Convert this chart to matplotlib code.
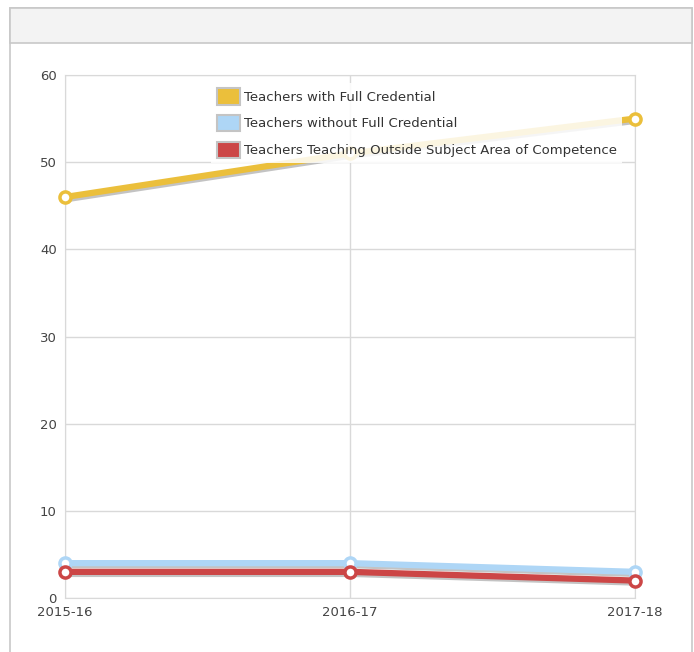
import matplotlib.pyplot as plt
import matplotlib.patheffects as pe
from matplotlib.patches import Rectangle, Patch

years = ["2015-16", "2016-17", "2017-18"]
full_cred = [46, 51, 55]
without_cred = [4, 4, 3]
outside_subject = [3, 3, 2]

series = [
    ("Teachers with Full Credential", full_cred, "#EBBF3B"),
    ("Teachers without Full Credential", without_cred, "#AED6F6"),
    ("Teachers Teaching Outside Subject Area of Competence", outside_subject, "#CC4646"),
]

fig = plt.figure(figsize=(6.94, 6.52), dpi=100)
fig.patch.set_facecolor("white")

# panel frame + header bar (kept behind the axes)
W, H = 694, 652
fig.add_artist(Rectangle((10 / W, -0.01), 682 / W, (H - 8) / H + 0.01,
                         transform=fig.transFigure, facecolor="white",
                         edgecolor="#c8c8c8", linewidth=1.2, zorder=-2))
fig.add_artist(Rectangle((10 / W, 1 - 43 / H), 682 / W, 35 / H,
                         transform=fig.transFigure, facecolor="#f3f3f3",
                         edgecolor="#c8c8c8", linewidth=1.2, zorder=-1))

ax = fig.add_axes([65 / W, 1 - 598 / H, 570 / W, 523 / H])
ax.set_facecolor("none")
x = list(range(len(years)))

shadow = [pe.SimpleLineShadow(offset=(1.5, -1.5), shadow_color="#555555", alpha=0.35),
          pe.Normal()]
for name, vals, color in series:
    ax.plot(x, vals, color=color, lw=4.5, solid_capstyle="round",
            path_effects=shadow, zorder=3, clip_on=False)
    ax.plot(x, vals, ls="none", marker="o", ms=8, mfc="white", mec=color,
            mew=2.5, zorder=4, clip_on=False)

ax.set_xlim(0, 2)
ax.set_ylim(0, 60)
ax.set_yticks(range(0, 61, 10))
ax.set_xticks(x)
ax.set_xticklabels(years)
ax.grid(True, color="#d9d9d9", lw=1)
ax.set_axisbelow(True)
for s in ax.spines.values():
    s.set_color("#d9d9d9")
ax.tick_params(length=0, colors="#444444", labelsize=9.5, pad=6)

handles = [Patch(facecolor=c, edgecolor="#c4c4c4", linewidth=1.5) for _, _, c in series]
leg = ax.legend(handles, [n for n, _, _ in series], loc="upper left",
                bbox_to_anchor=(0.245, 0.997), frameon=True, framealpha=0.85,
                edgecolor="none", fancybox=False, fontsize=9.5,
                handlelength=1.75, handleheight=1.5, handletextpad=0.3,
                labelspacing=0.8, borderpad=0.4, labelcolor="#333333")
leg.set_zorder(5)

fig.savefig("out.png", dpi=100)
